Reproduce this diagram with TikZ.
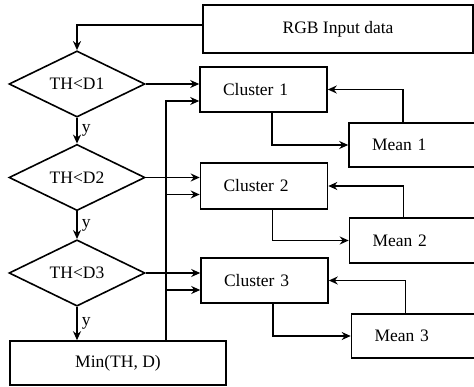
\documentclass[tikz,border=0pt]{standalone}
\usepackage{fontspec}
\setmainfont{Liberation Serif}
\usetikzlibrary{shapes.geometric,arrows.meta,positioning}

\begin{document}
\begin{tikzpicture}[
    x=1pt, y=-1pt,
    line width=1.6pt,
    font=\fontsize{17.5}{20}\selectfont,
    box/.style={draw, rectangle, inner sep=0pt},
    padbox/.style={box, align=left, inner xsep=23pt, text width=#1},
    test/.style={draw, diamond, inner sep=0pt,
      minimum width=136pt, minimum height=55pt},
    arr/.style={-{Stealth[length=9pt,width=8pt]}}
  ]
  \useasboundingbox (0,0) rectangle (474,387);

  % Input and result
  \node[box, minimum width=270pt, minimum height=48pt] (rgb) at (338,29) {RGB Input data};
  \node[box, minimum width=216pt, minimum height=44pt] (min) at (118,363) {Min(TH, D)};

  % Tests
  \node[test] (d1) at (77,84) {TH<D1};
  \node[test] (d2) at (77,177.5) {TH<D2};
  \node[test] (d3) at (77,273) {TH<D3};

  % Clusters
  \node[padbox=81pt, minimum height=45pt] (c1) at (263.5,89.5) {Cluster 1};
  \node[padbox=81pt, minimum height=46pt] (c2) at (264,186) {Cluster 2};
  \node[padbox=81pt, minimum height=45pt] (c3) at (264.5,280.5) {Cluster 3};

  % Means
  \node[padbox=85pt, minimum height=44pt] (m1) at (414.5,145) {Mean 1};
  \node[padbox=85pt, minimum height=45pt] (m2) at (415,240.5) {Mean 2};
  \node[padbox=85pt, minimum height=44pt] (m3) at (417,336) {Mean 3};

  % Down the tests
  \draw[arr] ([yshift=4pt]rgb.west) -| (d1.north);
  \draw[arr] (d1.south) -- node[right=4pt, inner sep=0pt] {y} (d2.north);
  \draw[arr] (d2.south) -- node[right=4pt, inner sep=0pt] {y} (d3.north);
  \draw[arr] (d3.south) -- node[right=4pt, inner sep=0pt] {y} (min.north -| d3.south);

  % Tests into clusters
  \coordinate (fb) at (166,0);
  \foreach \i in {1,2,3} {
    \coordinate (f\i) at ([yshift=-17pt]d\i.east);
    \draw[arr] (d\i.east) -- (d\i.east -| c\i.west);
    \draw[arr] ([xshift=8.5pt]c\i.south) |- (m\i.west);
    \draw[arr] ([xshift=-11.5pt]m\i.north) |- (c\i.east);
  }

  % Back from the minimum
  \draw[arr] (fb |- min.north) |- (f1 -| c1.west);
  \draw[arr] (fb |- f2) -- (f2 -| c2.west);
  \draw[arr] (fb |- f3) -- (f3 -| c3.west);
\end{tikzpicture}
\end{document}
